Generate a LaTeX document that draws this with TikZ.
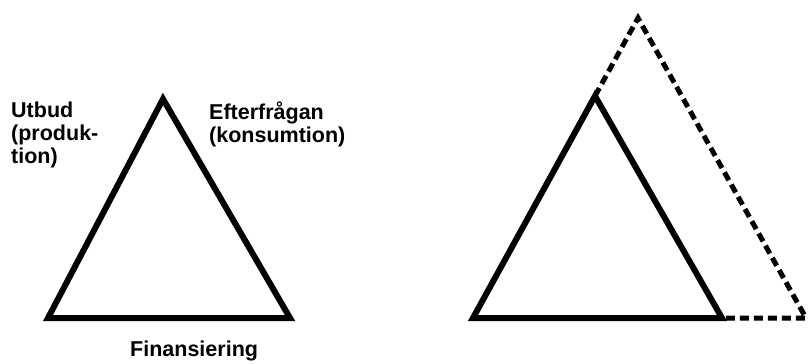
\documentclass[tikz,border=0pt]{standalone}
\usepackage{fontspec}
\setmainfont{Liberation Sans}
\begin{document}
\begin{tikzpicture}[x=1pt,y=-1pt,
  solidtri/.style={line width=6pt,line join=miter},
  dashtri/.style={line width=5pt,line join=miter,dash pattern=on 9pt off 5pt},
  lbl/.style={inner sep=0pt,align=left,anchor=north west,font=\fontsize{21.5}{23}\selectfont\bfseries}]
\useasboundingbox (0,0) rectangle (812,364);
% left triangle
\coordinate (LA) at (163,99);
\coordinate (LL) at (48,318);
\coordinate (LR) at (290,318);
\draw[solidtri] (LA) -- (LR) -- (LL) -- cycle;
\node[lbl] (utbud) at (11,102) {Utbud\\(produk-\\tion)};
\node[lbl] (efter) at (209,102) {Efterfrågan\\(konsumtion)};
\node[lbl,anchor=base west] (fin) at (130,356) {Finansiering};
% right triangle
\coordinate (RA) at (595,96);
\coordinate (RL) at (473,318);
\coordinate (RR) at (722,318);
\coordinate (DT) at (638,18);
\coordinate (DR) at (806,318);
\draw[solidtri] (RA) -- (RR) -- (RL) -- cycle;
\draw[dashtri] (RA) -- (DT) -- (DR) -- (RR);
\end{tikzpicture}
\end{document}
